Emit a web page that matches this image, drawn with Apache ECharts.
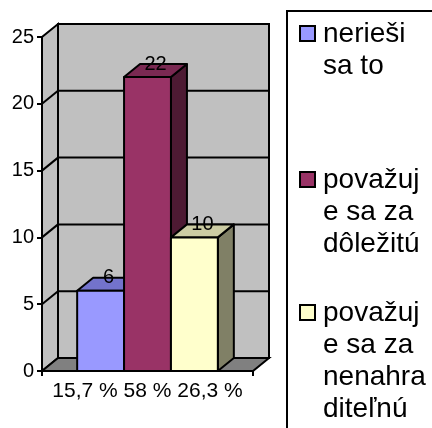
<!DOCTYPE html>
<html><head><meta charset="utf-8">
<script src="https://cdn.jsdelivr.net/npm/echarts@6/dist/echarts.min.js"></script>
<style>html,body{margin:0;padding:0;background:#fff}#c{width:432px;height:428px}</style>
</head><body><div id="c"></div>
<script>
// ---- data ----
const categories = ['15,7 % 58 % 26,3 %'];
const seriesNames = ['nerieši\nsa to', 'považuj\ne sa za\ndôležitú', 'považuj\ne sa za\nnenahra\nditeľnú'];
const seriesValues = [[6], [22], [10]];
const yTicks = [0, 5, 10, 15, 20, 25];

// ---- styles ----
const FONT = '"Liberation Sans", Arial, sans-serif';
const frontColors = ['#9999FF', '#993366', '#FFFFCC'];
const topColors = ['#7373CC', '#7A2952', '#CCCCA3'];
const sideColors = ['#4D4D80', '#4D1A33', '#808066'];
const DX = 16, DY = -13;          // 3D depth offset
const GAP = 1.5;                  // gap width (150%) in bar widths
const yMax = yTicks[yTicks.length - 1];

const chart = echarts.init(document.getElementById('c'), null, {renderer: 'canvas'});

function bandInfo(api) {
  const c0 = api.coord([0, 0]);
  const band = api.size([1, 0])[0];
  return {L: c0[0] - band / 2, R: c0[0] + band / 2, y0: c0[1], band: band};
}

function wallRender(params, api) {
  const b = bandInfo(api);
  const L = b.L, R = b.R, y0 = b.y0;
  const yTop = api.coord([0, yMax])[1];
  const ls = {stroke: '#000', lineWidth: 2};
  const ch = [];
  ch.push({type: 'polygon', shape: {points: [[L, y0], [L, yTop], [L + DX, yTop + DY], [L + DX, y0 + DY]]},
    style: {fill: '#C0C0C0', stroke: '#000', lineWidth: 2}});
  ch.push({type: 'rect', shape: {x: L + DX, y: yTop + DY, width: R - L, height: y0 - yTop},
    style: {fill: '#C0C0C0', stroke: '#000', lineWidth: 2}});
  ch.push({type: 'polygon', shape: {points: [[L, y0], [R, y0], [R + DX, y0 + DY], [L + DX, y0 + DY]]},
    style: {fill: '#808080', stroke: '#000', lineWidth: 2}});
  yTicks.forEach(function (v) {
    if (v === 0 || v === yMax) return;
    const y = api.coord([0, v])[1];
    ch.push({type: 'line', shape: {x1: L, y1: y, x2: L + DX, y2: y + DY}, style: ls});
    ch.push({type: 'line', shape: {x1: L + DX, y1: y + DY, x2: R + DX, y2: y + DY}, style: ls});
  });
  return {type: 'group', children: ch};
}

function barRender(idx) {
  return function (params, api) {
    const b = bandInfo(api);
    const bw = b.band / (seriesValues.length + GAP);
    const x = b.L + (GAP / 2 + idx) * bw;
    const val = api.value(1);
    const yv = api.coord([0, val])[1];
    const y0 = b.y0;
    const st = {stroke: '#000', lineWidth: 2, lineJoin: 'round'};
    return {type: 'group', children: [
      {type: 'polygon', shape: {points: [[x + bw, yv], [x + bw + DX, yv + DY], [x + bw + DX, y0 + DY], [x + bw, y0]]},
        style: Object.assign({fill: sideColors[idx]}, st)},
      {type: 'polygon', shape: {points: [[x, yv], [x + bw, yv], [x + bw + DX, yv + DY], [x + DX, yv + DY]]},
        style: Object.assign({fill: topColors[idx]}, st)},
      {type: 'rect', shape: {x: x, y: yv, width: bw, height: y0 - yv},
        style: Object.assign({fill: frontColors[idx]}, st)},
      {type: 'text', x: x + bw / 2 + DX / 2, y: yv + DY,
        style: {text: String(val), fill: '#000', font: '20px ' + FONT, align: 'center', verticalAlign: 'middle'}}
    ]};
  };
}

const series = [{
  type: 'custom', name: 'walls', silent: true, z: 1,
  data: [[0, 0]], renderItem: wallRender
}];
seriesNames.forEach(function (n, i) {
  series.push({type: 'custom', name: n, z: 2 + i, data: [[0, seriesValues[i][0]]], renderItem: barRender(i)});
});

// legend (drawn as graphic: box clipped by chart edge)
const legendFirstLine = [34, 180, 313];
const LH = 32;
const legendChildren = [{type: 'rect', shape: {x: 287, y: 11, width: 200, height: 500},
  style: {fill: '#fff', stroke: '#000', lineWidth: 2}}];
seriesNames.forEach(function (n, i) {
  const yc = legendFirstLine[i];
  legendChildren.push({type: 'rect', shape: {x: 300, y: yc - 8, width: 15, height: 15},
    style: {fill: frontColors[i], stroke: '#000', lineWidth: 2}});
  legendChildren.push({type: 'text', x: 323, y: yc - LH / 2,
    style: {text: n, fill: '#000', font: '28px ' + FONT, lineHeight: LH, verticalAlign: 'top', align: 'left'}});
});

chart.setOption({
  animation: false,
  backgroundColor: '#fff',
  grid: {left: 42, top: 37, bottom: 57, width: 211, containLabel: false},
  xAxis: {
    type: 'category', data: categories,
    axisLine: {show: false},
    axisTick: {show: true, length: 5, lineStyle: {color: '#000', width: 2}},
    axisLabel: {color: '#000', fontSize: 21, fontFamily: FONT, margin: 10},
    splitLine: {show: false}
  },
  yAxis: {
    type: 'value', min: 0, max: yMax, interval: 5,
    axisLine: {show: true, lineStyle: {color: '#000', width: 2}},
    axisTick: {show: true, length: 5, lineStyle: {color: '#000', width: 2}},
    axisLabel: {color: '#000', fontSize: 20, fontFamily: FONT, margin: 8},
    splitLine: {show: false}
  },
  graphic: [{type: 'group', children: legendChildren}],
  series: series
});
</script>
</body></html>
